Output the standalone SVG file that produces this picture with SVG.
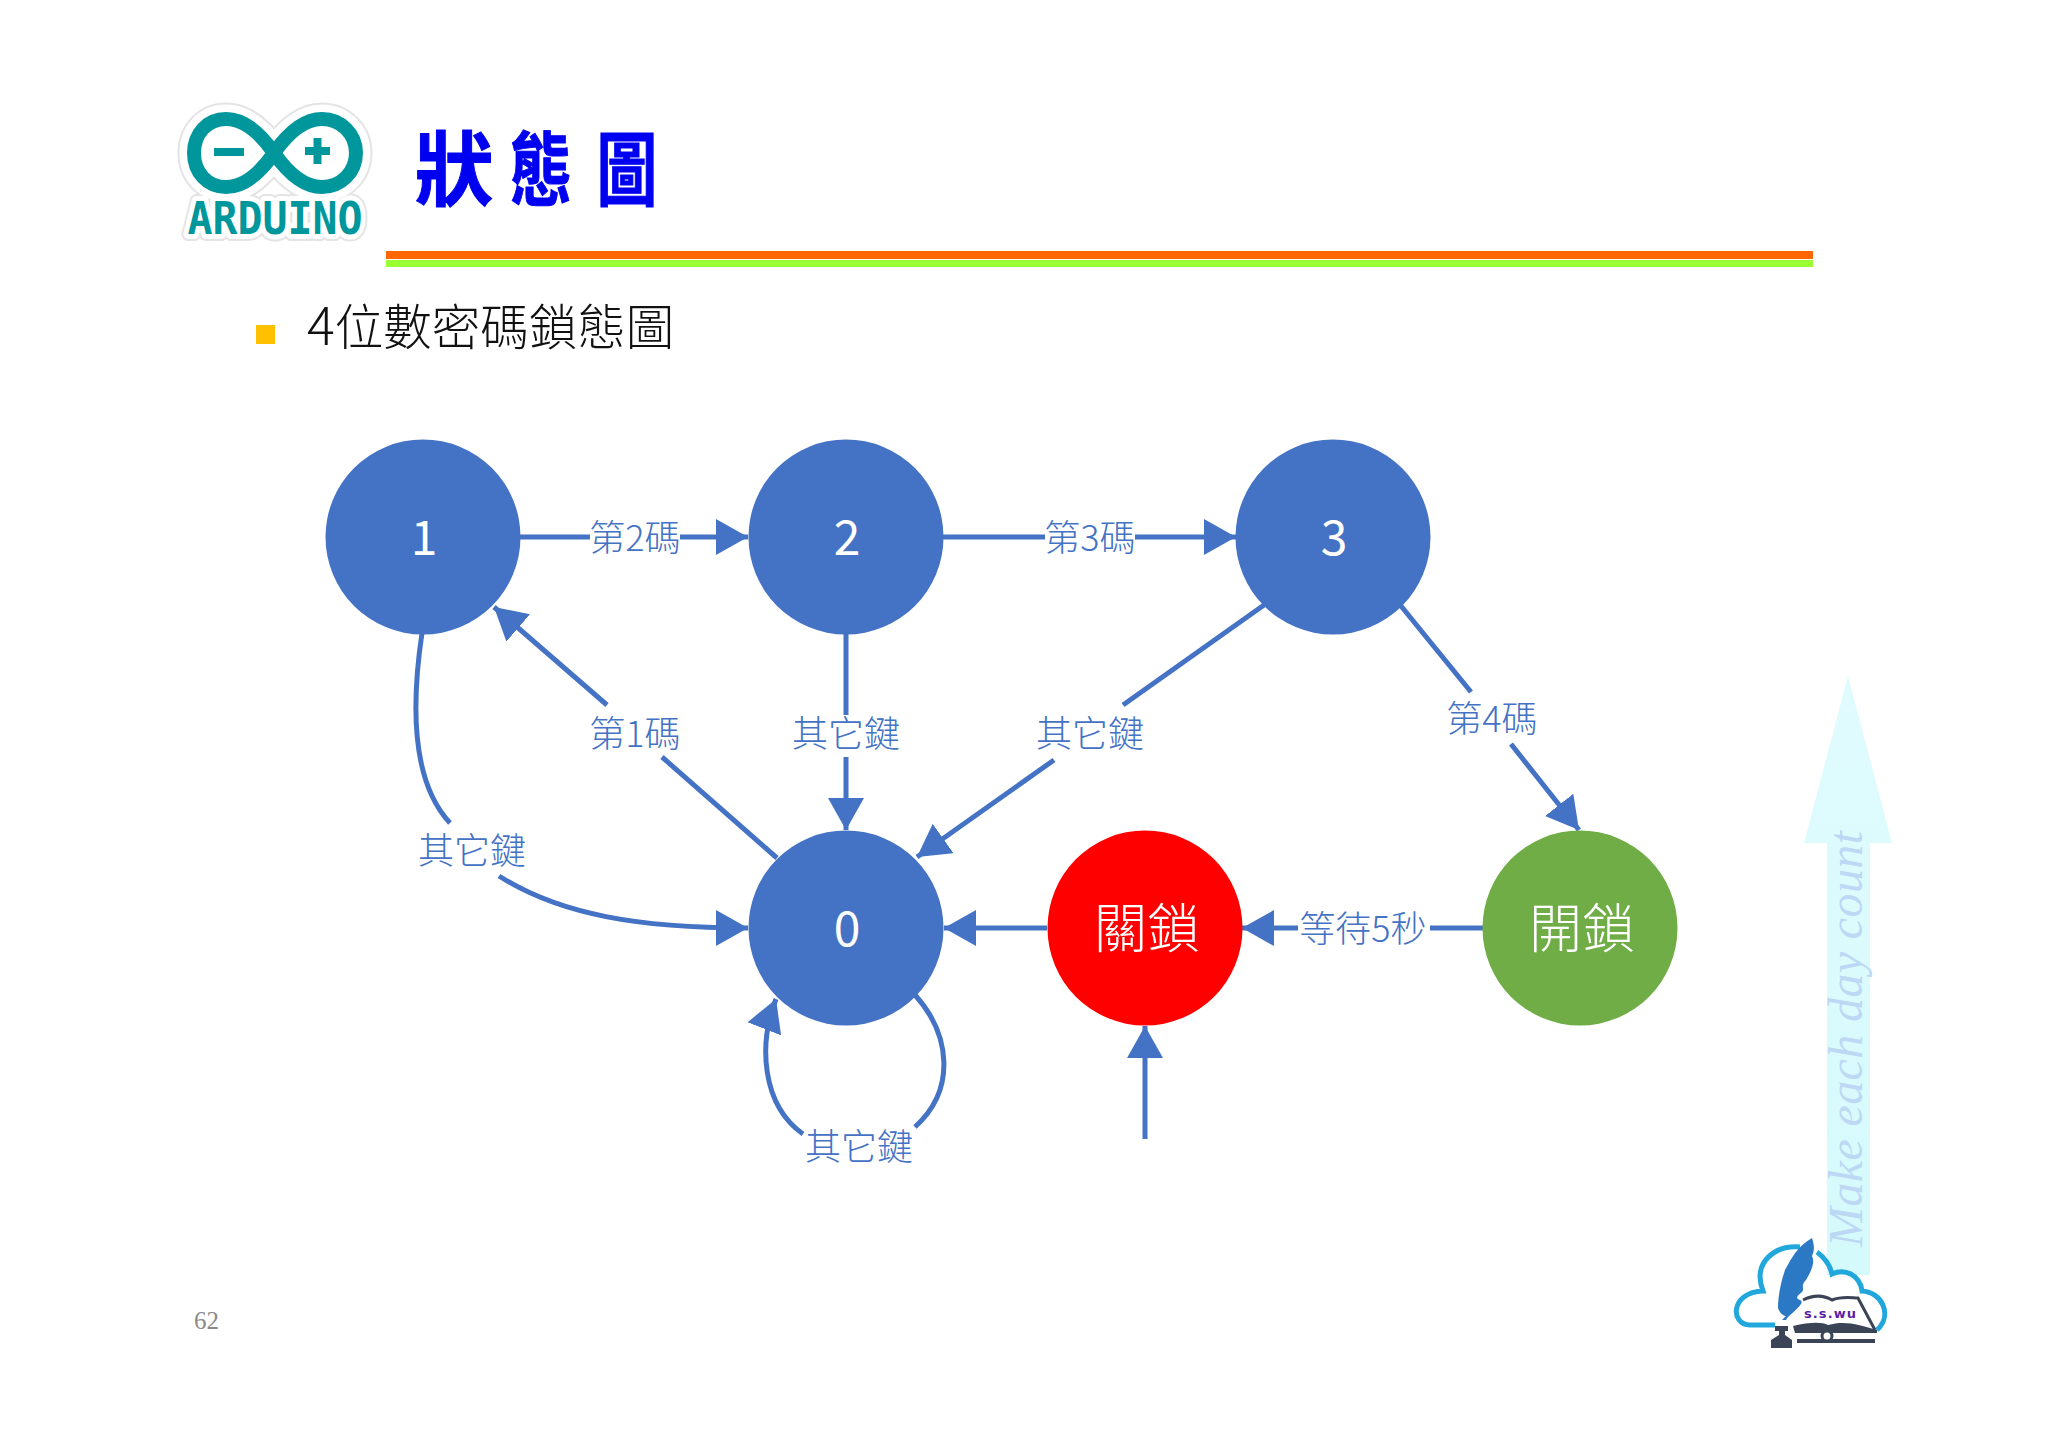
<svg xmlns="http://www.w3.org/2000/svg" width="2048" height="1448" viewBox="0 0 2048 1448">
<style>
.c{stroke:#4472C4;stroke-width:5;fill:none}
.a{marker-end:url(#ah)}
.n{fill:#4472C4}
.t{font-family:"Noto Sans CJK TC","Noto Sans",sans-serif;text-anchor:middle;dominant-baseline:central}
.l{fill:#4472C4;font-size:36px;font-weight:300}
.w{fill:#fff;font-size:48px}
.k{fill:#fff;font-size:53px;font-weight:300}
.h{font-family:"Noto Sans CJK TC",sans-serif;font-size:78px;font-weight:700;fill:#0000F0;stroke:#0000F0;stroke-width:1;text-anchor:middle}
.ard{font-family:"DejaVu Sans Mono",monospace;font-size:44px;font-weight:700;text-anchor:middle}
</style>
<defs>
<marker id="ah" markerUnits="userSpaceOnUse" markerWidth="32" markerHeight="36" refX="32" refY="18" orient="auto"><path d="M0,0L32,18L0,36Z" fill="#4472C4"/></marker>
<linearGradient id="ag" x1="0" y1="1" x2="0" y2="0"><stop offset="0" stop-color="#D5FAFC"/><stop offset="1" stop-color="#E0FBFD"/></linearGradient>
<path id="inf" d="M274,153C258,130 243,119 226,119C207,119 194,134 194,153C194,172 207,187 226,187C243,187 258,176 274,153C290,130 305,119 322,119C341,119 356,134 356,153C356,172 341,187 322,187C305,187 290,176 274,153Z"/>
</defs>
<rect width="2048" height="1448" fill="#fff"/>
<g id="header">
<rect x="386" y="251" width="1427" height="8" fill="#FF6600"/>
<rect x="386" y="260" width="1427" height="7" fill="#99FF33"/>
<text class="h" transform="translate(454,199) scale(1,1.03)">狀</text>
<text class="h" transform="translate(541,199) scale(.8,1.03)">態</text>
<text class="h" transform="translate(627,199) scale(.78,1.03)">圖</text>
<rect x="256" y="325" width="19" height="19" fill="#FFC000"/>
<text x="307" y="345" font-family="'Noto Sans CJK TC',sans-serif" font-size="48.5" font-weight="300" fill="#111"><tspan font-size="52">4</tspan>位數密碼鎖態圖</text>
</g>
<g id="arduino-logo">
<use href="#inf" fill="#fff" stroke="#e4e4e4" stroke-width="33" stroke-linejoin="round"/>
<text class="ard" x="275" y="234" textLength="175" lengthAdjust="spacingAndGlyphs" fill="#e4e4e4" stroke="#e4e4e4" stroke-width="14" stroke-linejoin="round">ARDUINO</text>
<use href="#inf" fill="#fff" stroke="#fff" stroke-width="29" stroke-linejoin="round"/>
<text class="ard" x="275" y="234" textLength="175" lengthAdjust="spacingAndGlyphs" fill="#fff" stroke="#fff" stroke-width="10" stroke-linejoin="round">ARDUINO</text>
<use href="#inf" fill="#fff" stroke="#00979C" stroke-width="14"/>
<rect x="214" y="148" width="30" height="8" fill="#00979C"/>
<rect x="305" y="147" width="25" height="8" fill="#00979C"/>
<rect x="313.500" y="138" width="8" height="26" fill="#00979C"/>
<text class="ard" x="275" y="234" textLength="175" lengthAdjust="spacingAndGlyphs" fill="#00979C">ARDUINO</text>
</g>
<g id="background-arrow">
<path d="M1848,676L1892,843H1870V1275H1827V843H1804Z" fill="url(#ag)"/>
<text transform="translate(1862,1247) rotate(-90)" font-family="'Liberation Serif',serif" font-style="italic" font-size="48" fill="#BCD8F5" textLength="416">Make each day count</text>
</g>
<g id="connectors">
<path class="c" d="M520,537H590"/><path class="c a" d="M680,537H748"/>
<path class="c" d="M942,537H1045"/><path class="c a" d="M1135,537H1236"/>
<path class="c" d="M1264,605L1123,705"/><path class="c a" d="M1054,760L917,857"/>
<path class="c" d="M1401,606L1471,692"/><path class="c a" d="M1511,744L1579,830"/>
<path class="c" d="M846,634V715"/><path class="c a" d="M846,757V830"/>
<path class="c" d="M777,858L662,757"/><path class="c a" d="M607,705L494,607"/>
<path class="c" d="M422,633C412,700 410,780 450,823"/><path class="c a" d="M499,876C560,915 640,928 748,928"/>
<path class="c" d="M915,995C951,1035 956,1090 915,1127"/><path class="c a" d="M803,1134C762,1105 758,1045 776,999"/>
<path class="c a" d="M1047,928H944"/>
<path class="c" d="M1483,928H1430"/><path class="c a" d="M1298,928H1242"/>
<path class="c a" d="M1145,1139V1026"/>
</g>
<g id="edge-labels">
<text class="t l" x="635" y="535">第2碼</text>
<text class="t l" x="1090" y="535">第3碼</text>
<text class="t l" x="635" y="731">第1碼</text>
<text class="t l" x="846" y="731">其它鍵</text>
<text class="t l" x="1090" y="731">其它鍵</text>
<text class="t l" x="1492" y="716">第4碼</text>
<text class="t l" x="472" y="848">其它鍵</text>
<text class="t l" x="859" y="1144">其它鍵</text>
<text class="t l" x="1363" y="926">等待5秒</text>
</g>
<g id="node-1"><circle class="n" cx="423" cy="537" r="97.500"/><text class="t w" x="424" y="534">1</text></g>
<g id="node-2"><circle class="n" cx="846" cy="537" r="97.500"/><text class="t w" x="847" y="534">2</text></g>
<g id="node-3"><circle class="n" cx="1333" cy="537" r="97.500"/><text class="t w" x="1334" y="534">3</text></g>
<g id="node-0"><circle class="n" cx="846" cy="928" r="97.500"/><text class="t w" x="847" y="925">0</text></g>
<g id="node-closed"><circle cx="1145" cy="928" r="97.500" fill="#FF0000"/><text class="t k" x="1147" y="925">關鎖</text></g>
<g id="node-open"><circle cx="1580" cy="928" r="97.500" fill="#70AD47"/><text class="t k" x="1582" y="925">開鎖</text></g>
<g id="footer">
<text x="194" y="1329" font-family="'Liberation Serif',serif" font-size="25" fill="#8a8a8a">62</text>
</g>
<g id="ss-wu-logo">
<path d="M1775,1325H1750C1730,1325 1730,1292 1763,1291C1752,1262 1775,1245 1800,1247M1817,1252C1825,1258 1830,1265 1832,1274C1845,1268 1860,1275 1862,1291C1882,1292 1893,1315 1877,1330" fill="none" stroke="#22A7DC" stroke-width="5"/>
<path d="M1812,1238C1795,1248 1790,1262 1785,1270C1780,1285 1778,1298 1778,1308C1780,1314 1784,1316 1786,1316L1782,1320H1786L1788,1317C1798,1308 1805,1302 1800,1300C1795,1298 1797,1296 1802,1292C1805,1288 1800,1286 1806,1280C1812,1270 1815,1262 1812,1256C1815,1250 1814,1244 1812,1238Z" fill="#2B78C5"/>
<path d="M1803,1300C1815,1294 1825,1296 1832,1300C1842,1296 1852,1298 1858,1298L1875,1330" fill="none" stroke="#3B4456" stroke-width="3"/>
<path d="M1793,1326C1810,1322 1822,1322 1828,1325C1845,1320 1860,1325 1877,1330L1877,1333H1795Z" fill="#3B4456"/>
<path d="M1798,1340H1874V1342H1798Z" fill="#3B4456" stroke="#3B4456" stroke-width="2"/>
<circle cx="1827" cy="1336" r="5" fill="#fff" stroke="#3B4456" stroke-width="3"/>
<text x="1830" y="1318" font-family="'DejaVu Sans',sans-serif" font-size="13" font-weight="700" fill="#5B1FA5" text-anchor="middle" textLength="52">s.s.wu</text>
<path d="M1775,1326H1788V1331H1785V1335L1792,1340V1348H1771V1340L1779,1335V1331H1775Z" fill="#3B4456"/>
</g>
</svg>
